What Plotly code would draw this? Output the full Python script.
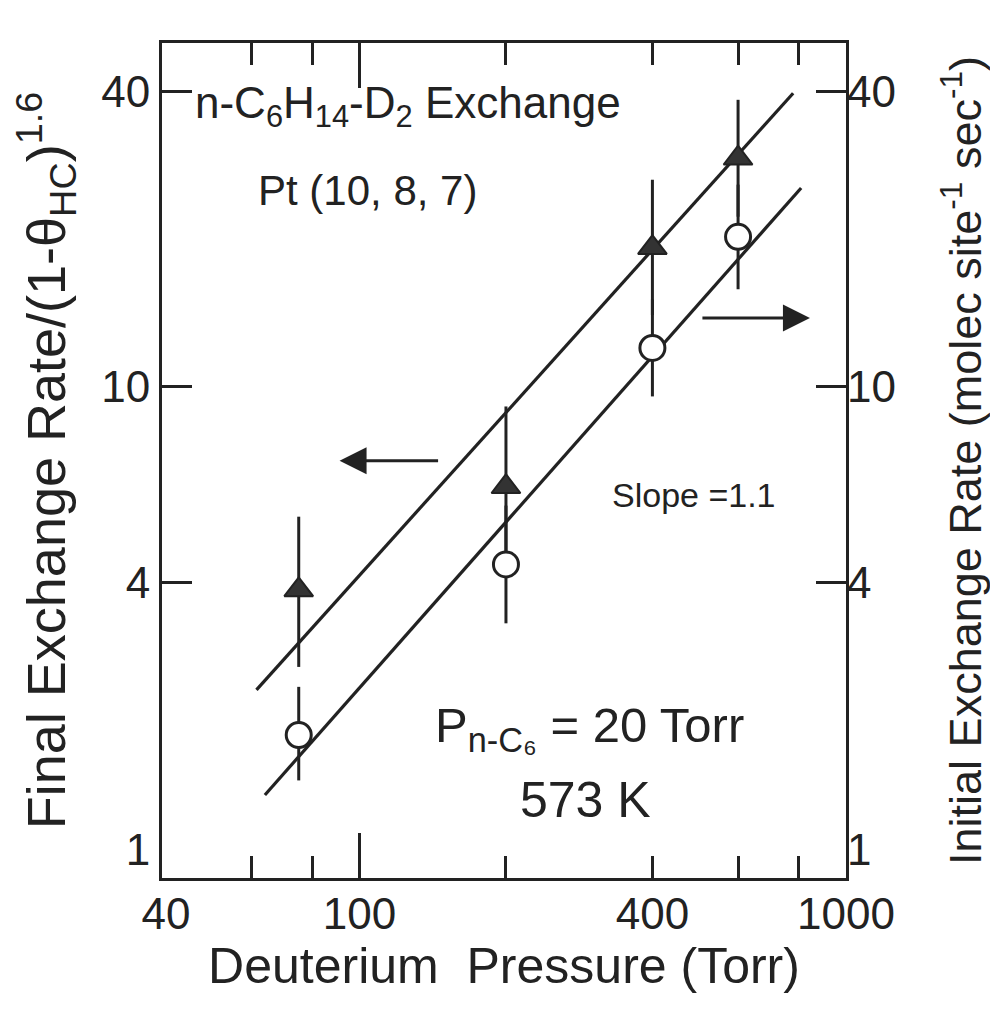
import numpy as np
import plotly.graph_objects as go

# ---- data ----
pressure = [75, 200, 400, 600]                       # Torr
final_rate = [3.86, 6.26, 19.2, 29.2]                # triangles, left axis
final_hi = [5.44, 9.12, 26.4, 38.4]
final_lo = [2.69, 4.30, 14.0, 22.2]
initial_rate = [1.955, 4.35, 12.0, 20.2]             # circles, right axis
initial_hi = [2.45, 5.73, 15.06, 25.8]
initial_lo = [1.58, 3.30, 9.56, 15.8]

fit_final_x = [61.4, 778.7]
fit_final_y = [2.415, 39.6]
fit_init_x = [63.9, 808.7]
fit_init_y = [1.476, 25.4]

x_label_vals = [40, 100, 400, 1000]
x_minor_vals = [60, 80, 200, 400, 600, 800]
y_tick_vals = [1, 4, 10, 40]
y_tick_text = ["1<br> ", "4", "10", "40"]   # bottom label sits just above the corner

INK = "#222222"
FONT = "Liberation Sans"

fig = go.Figure()

# fitted lines
fig.add_trace(go.Scatter(x=fit_final_x, y=fit_final_y, mode="lines",
                         line=dict(color=INK, width=3.2), xaxis="x", yaxis="y",
                         showlegend=False, hoverinfo="skip"))
fig.add_trace(go.Scatter(x=fit_init_x, y=fit_init_y, mode="lines",
                         line=dict(color=INK, width=3.2), xaxis="x2", yaxis="y2",
                         showlegend=False, hoverinfo="skip"))

# triangles (final rate)
fig.add_trace(go.Scatter(
    x=pressure, y=final_rate, mode="markers", xaxis="x", yaxis="y",
    marker=dict(symbol="triangle-up", size=25, color="#333333",
                line=dict(color=INK, width=2)),
    error_y=dict(type="data", symmetric=False,
                 array=[h - v for h, v in zip(final_hi, final_rate)],
                 arrayminus=[v - l for v, l in zip(final_rate, final_lo)],
                 color=INK, thickness=3, width=0),
    showlegend=False))

# circles (initial rate)
fig.add_trace(go.Scatter(
    x=pressure, y=initial_rate, mode="markers", xaxis="x2", yaxis="y2",
    marker=dict(symbol="circle", size=25, color="white",
                line=dict(color=INK, width=3)),
    error_y=dict(type="data", symmetric=False,
                 array=[h - v for h, v in zip(initial_hi, initial_rate)],
                 arrayminus=[v - l for v, l in zip(initial_rate, initial_lo)],
                 color=INK, thickness=3, width=0),
    showlegend=False))

XR = [1.594, 3.0]
YR = [0.0, 1.70]
tickfont = dict(family=FONT, size=44, color=INK)

fig.update_layout(
    width=990, height=1005,
    margin=dict(l=154, r=152, t=35, b=135, autoexpand=False),
    paper_bgcolor="white", plot_bgcolor="white",
    xaxis=dict(type="log", range=XR, showgrid=False, zeroline=False,
               showline=True, linewidth=3, linecolor=INK, mirror="ticks",
               tickmode="array", tickvals=[100], ticks="inside", ticklen=45,
               tickwidth=3, tickcolor=INK, showticklabels=False, automargin=False,
               minor=dict(tickmode="array", tickvals=x_minor_vals,
                          ticks="inside", ticklen=22, tickwidth=3,
                          tickcolor=INK, showgrid=False)),
    xaxis2=dict(type="log", range=XR, overlaying="x", side="bottom", anchor="y",
                showgrid=False, zeroline=False, showline=False, automargin=False,
                tickmode="array", tickvals=x_label_vals,
                ticktext=[str(v) for v in x_label_vals], ticks="",
                tickfont=tickfont, ticklabelstandoff=6,
                title=dict(text="Deuterium  Pressure (Torr)",
                           font=dict(family=FONT, size=50, color=INK),
                           standoff=0)),
    yaxis=dict(type="log", range=YR, showgrid=False, zeroline=False,
               showline=True, linewidth=3, linecolor=INK, mirror=True,
               automargin=False,
               tickmode="array", tickvals=y_tick_vals, ticktext=y_tick_text,
               ticks="inside", ticklen=30, tickwidth=3, tickcolor=INK,
               tickfont=tickfont,
               title=dict(text="Final Exchange Rate/(1-θ<sub>HC</sub>)<sup>1.6</sup>",
                          font=dict(family=FONT, size=54, color=INK), standoff=24)),
    yaxis2=dict(type="log", range=YR, overlaying="y", side="right", anchor="x",
                showgrid=False, zeroline=False, showline=False, automargin=False,
                tickmode="array", tickvals=y_tick_vals, ticktext=y_tick_text,
                ticks="inside", ticklen=30, tickwidth=3, tickcolor=INK,
                tickfont=tickfont,
                title=dict(text="Initial Exchange Rate (molec site<sup>-1</sup> sec<sup>-1</sup>)",
                           font=dict(family=FONT, size=45, color=INK), standoff=54)),
)

# arrows showing which axis each series belongs to
LEFT_ARROW_HEAD = (91, 7.07)
RIGHT_ARROW_HEAD = (843, 13.8)
fig.add_annotation(x=np.log10(LEFT_ARROW_HEAD[0]), y=np.log10(LEFT_ARROW_HEAD[1]),
                   xref="x", yref="y", ax=100, ay=0, text="", showarrow=True,
                   arrowhead=2, arrowsize=1.8, arrowwidth=3, arrowcolor=INK)
fig.add_annotation(x=np.log10(RIGHT_ARROW_HEAD[0]), y=np.log10(RIGHT_ARROW_HEAD[1]),
                   xref="x2", yref="y2", ax=-109, ay=0, text="", showarrow=True,
                   arrowhead=2, arrowsize=1.8, arrowwidth=3, arrowcolor=INK)

def px(xpix):
    return (xpix - 161.7) / 684.3

def py(ypix):
    return (878 - ypix) / 835.3

texts = [
    ("n-C<sub>6</sub>H<sub>14</sub>-D<sub>2</sub> Exchange", 193, 106, 44),
    ("Pt (10, 8, 7)", 256, 190, 42),
    ("Slope =1.1", 610, 495, 34),
    ("P<sub>n-C₆</sub> = 20 Torr", 433, 728, 49),
    ("573 K", 518, 800, 50),
]
for t, xp_, yp_, fs in texts:
    fig.add_annotation(x=px(xp_), y=py(yp_), xref="paper", yref="paper",
                       text=t, showarrow=False, xanchor="left", yanchor="middle",
                       font=dict(family=FONT, size=fs, color=INK))

fig.write_html("out.html")
